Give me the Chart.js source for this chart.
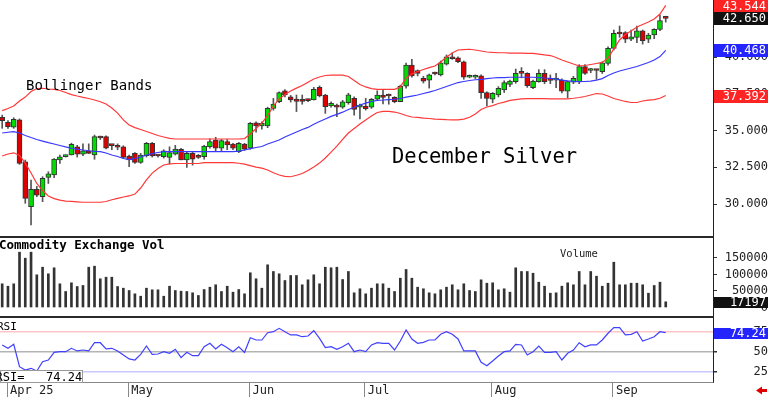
<!DOCTYPE html>
<html>
<head>
<meta charset="utf-8">
<script src="https://cdn.jsdelivr.net/npm/chart.js@4.4.1/dist/chart.umd.min.js"></script>
<style>
  html, body { margin: 0; padding: 0; background: #fff; }
  #wrap { position: relative; width: 768px; height: 397px; overflow: hidden; background: #fff; }
  canvas { position: absolute; left: 0; }
  .sep { position: absolute; left: 0; width: 714px; background: #2a2a2a; }
</style>
</head>
<body>
<div id="wrap">
  <canvas id="price" width="768" height="236" style="top:0"></canvas>
  <div class="sep" style="top:236px;height:2px"></div>
  <canvas id="vol" width="768" height="78" style="top:238px"></canvas>
  <div class="sep" style="top:316px;height:2px"></div>
  <canvas id="rsi" width="768" height="79" style="top:318px"></canvas>
</div>
<script>
// daily bars, index 0 = Mar 31 ... 115 = Sep 15
const monthTicks = [1, 22, 43, 63, 85, 106];
const monthLabels = ['Apr 25', 'May', 'Jun', 'Jul', 'Aug', 'Sep'];

const open = [35.91,35.57,35.23,35.73,32.88,29.82,31.00,30.50,31.82,31.98,
  33.00,33.23,33.34,33.90,33.40,33.63,33.34,34.55,34.59,34.00,
  34.00,33.90,33.27,33.45,32.84,33.29,34.14,33.30,33.22,33.18,
  33.40,33.73,33.00,33.45,33.32,33.22,33.90,34.36,33.80,34.25,
  34.09,33.57,34.09,33.80,35.54,35.32,35.32,36.52,36.97,37.72,
  37.30,37.15,37.14,37.10,37.09,37.95,37.43,36.68,36.75,36.60,
  36.90,37.20,36.60,36.68,36.60,37.14,37.43,37.39,37.27,36.97,
  38.04,39.47,39.09,38.57,38.45,38.90,38.80,39.54,40.04,39.97,
  39.70,38.64,38.64,38.73,37.59,37.14,37.43,37.77,38.16,38.34,
  38.98,38.90,37.93,38.34,38.90,38.47,38.45,38.45,37.70,38.30,
  38.34,39.36,39.10,39.14,39.02,39.59,40.61,41.68,41.68,41.23,
  41.36,41.81,41.23,41.52,41.90,42.70];
const high = [36.06,35.68,35.88,35.80,33.00,31.64,31.20,31.86,32.20,33.10,
  33.34,33.35,34.15,34.00,34.10,34.10,34.70,34.63,34.65,34.05,
  34.10,33.97,33.34,33.50,33.45,34.20,34.20,33.35,33.70,33.90,
  34.00,33.80,33.57,33.55,33.38,34.00,34.45,34.55,34.40,34.40,
  34.14,34.20,34.14,35.56,35.60,35.60,36.60,37.20,37.65,37.80,
  37.40,37.43,37.43,37.15,37.95,38.05,37.48,36.96,36.82,37.07,
  37.55,37.31,36.82,37.20,37.20,37.72,37.80,37.50,37.32,38.10,
  39.60,39.86,39.14,38.70,38.86,39.00,39.75,40.16,40.30,40.04,
  39.75,38.80,38.80,38.80,37.65,37.60,38.00,38.40,38.45,39.20,
  39.30,38.95,38.45,39.16,39.16,38.80,38.90,38.54,38.38,38.70,
  39.50,39.50,39.25,39.18,39.70,40.72,41.86,42.13,41.75,41.86,
  42.13,41.86,41.64,41.95,42.88,42.80];
const low = [35.16,35.16,35.16,32.70,30.05,28.57,30.50,30.16,31.40,31.80,
  32.77,33.20,33.34,33.20,33.30,33.45,33.05,34.40,33.75,33.70,
  33.70,33.10,32.54,32.77,32.77,33.20,33.20,33.20,33.13,32.73,
  33.34,33.00,32.50,32.65,33.10,33.05,33.80,33.57,33.57,33.70,
  33.70,33.50,33.65,33.73,34.90,35.10,35.20,36.40,36.90,37.30,
  36.95,36.30,36.80,36.98,37.09,37.30,36.18,36.60,35.95,36.52,
  36.80,36.06,35.80,36.40,36.52,37.10,36.82,36.80,36.90,36.97,
  37.90,38.64,38.73,38.25,37.90,38.80,38.73,39.47,39.86,39.63,
  38.50,38.60,38.55,37.20,36.68,36.90,37.30,37.60,38.00,38.23,
  38.60,37.95,37.86,38.30,38.20,38.20,37.93,37.57,37.25,38.20,
  38.20,38.84,38.95,38.50,38.90,39.47,40.50,41.36,41.00,41.13,
  41.00,40.90,41.00,41.27,41.81,42.40];
const close = [35.68,35.27,35.77,32.77,30.39,31.00,30.61,31.75,32.05,33.07,
  33.22,33.28,34.07,33.40,33.63,33.45,34.59,34.50,33.80,33.98,
  33.87,33.18,33.00,32.84,33.34,34.14,33.27,33.27,33.63,33.50,
  33.75,33.00,33.45,33.05,33.18,33.95,34.25,33.80,34.32,34.02,
  33.80,34.14,33.73,35.50,35.32,35.50,36.52,36.82,37.59,37.43,
  37.10,37.00,37.00,37.05,37.82,37.36,36.63,36.86,36.60,36.97,
  37.45,36.45,36.75,36.50,37.14,37.43,37.27,37.36,36.97,38.04,
  39.47,38.73,38.90,38.38,38.80,38.86,39.63,40.04,39.90,39.70,
  38.64,38.73,38.75,37.59,37.20,37.55,37.89,38.27,38.38,38.90,
  38.90,38.06,38.38,38.90,38.34,38.43,38.52,37.70,38.34,38.57,
  39.36,38.90,39.16,39.10,39.63,40.61,41.64,41.59,41.23,41.40,
  41.81,41.13,41.52,41.90,42.50,42.65];

const bbUpper = [36.37,36.51,36.68,37.02,37.29,37.67,37.87,37.89,37.84,37.81,
  37.74,37.60,37.46,37.36,37.27,37.19,37.09,36.97,36.82,36.54,
  36.20,35.73,35.39,35.21,35.08,34.94,34.81,34.67,34.57,34.47,
  34.43,34.43,34.43,34.43,34.43,34.43,34.43,34.43,34.43,34.43,
  34.43,34.43,34.46,34.77,35.15,35.52,36.03,36.68,37.16,37.46,
  37.70,37.90,38.08,38.30,38.52,38.66,38.76,38.79,38.79,38.79,
  38.69,38.42,38.15,37.98,37.87,37.82,37.82,37.82,37.82,37.98,
  38.59,38.86,39.03,39.17,39.30,39.41,39.68,40.02,40.29,40.50,
  40.53,40.55,40.50,40.43,40.36,40.33,40.31,40.31,40.29,40.29,
  40.28,40.27,40.27,40.22,40.16,40.12,39.99,39.82,39.68,39.54,
  39.41,39.44,39.51,39.58,39.65,39.95,40.57,41.18,41.55,41.79,
  42.07,42.24,42.41,42.61,42.95,43.544];
const bbMid = [34.84,34.89,34.93,34.84,34.67,34.53,34.40,34.29,34.18,34.09,
  33.99,33.89,33.80,33.74,33.68,33.63,33.59,33.57,33.48,33.34,
  33.24,33.10,33.03,33.10,33.20,33.34,33.44,33.51,33.57,33.57,
  33.57,33.57,33.57,33.57,33.57,33.57,33.57,33.57,33.57,33.57,
  33.57,33.61,33.68,33.78,33.85,33.92,34.09,34.23,34.36,34.57,
  34.74,34.91,35.08,35.22,35.44,35.62,35.79,35.97,36.11,36.26,
  36.44,36.60,36.75,36.88,36.99,37.07,37.09,37.12,37.14,37.19,
  37.29,37.36,37.43,37.53,37.63,37.74,37.87,38.01,38.15,38.28,
  38.35,38.42,38.47,38.50,38.55,38.59,38.61,38.62,38.64,38.64,
  38.64,38.64,38.64,38.62,38.59,38.57,38.52,38.45,38.40,38.36,
  38.34,38.35,38.38,38.45,38.55,38.76,38.93,39.07,39.17,39.27,
  39.37,39.51,39.65,39.82,40.05,40.468];
const bbLower = [33.27,33.41,33.49,33.31,32.79,32.11,31.40,30.92,30.55,30.37,
  30.27,30.20,30.18,30.15,30.12,30.12,30.12,30.12,30.17,30.29,
  30.39,30.48,30.55,30.68,31.09,31.64,32.11,32.42,32.66,32.73,
  32.76,32.76,32.76,32.76,32.76,32.82,32.82,32.82,32.82,32.82,
  32.82,32.78,32.72,32.62,32.52,32.45,32.32,32.13,31.98,31.89,
  31.86,31.96,32.08,32.28,32.52,32.79,33.14,33.54,33.95,34.40,
  34.84,35.15,35.45,35.73,36.00,36.24,36.31,36.31,36.27,36.17,
  36.03,35.93,35.90,35.86,35.83,35.79,35.77,35.75,35.74,35.73,
  35.79,35.91,36.14,36.44,36.61,36.71,36.85,36.95,37.06,37.12,
  37.16,37.19,37.19,37.19,37.19,37.16,37.16,37.16,37.17,37.21,
  37.26,37.33,37.43,37.53,37.50,37.36,37.19,37.09,36.99,36.92,
  36.92,37.02,37.08,37.12,37.21,37.392];

const volume = [71800,64500,71800,167600,149400,167600,99100,122100,102100,120300,
  71800,48500,74800,63600,66700,122100,125200,87000,91800,91800,
  63600,58500,51500,41500,34200,58500,53600,53600,34200,64500,
  51500,49400,48500,44500,36400,54500,61500,68800,48500,64500,
  46400,54500,41500,105200,87000,58500,129400,109100,102100,81800,
  97000,97000,68800,83900,99100,71800,122100,120300,122100,84800,
  109100,44500,56700,41500,58500,71800,71800,58500,48500,88800,
  115200,88800,61500,56700,44500,41500,53600,61500,68800,53600,
  71800,51500,48500,83900,73600,74800,53600,56700,46400,120300,
  109100,109100,103900,76700,64500,43300,44500,64500,74800,68800,
  109100,68800,109100,94800,64500,73600,137300,68800,68800,73600,
  73600,68800,43300,66700,76700,17197];

const rsi = [58.8,54.6,59.6,31.6,27.5,29.6,26.3,37.9,40.0,49.6,
  50.4,50.4,54.6,51.3,52.5,51.3,61.6,61.6,53.8,54.6,
  51.3,46.3,41.3,40.0,47.1,57.5,47.1,47.5,50.4,48.4,
  53.4,42.9,49.6,45.4,45.4,56.6,60.9,53.8,59.6,55.4,
  50.4,56.6,49.6,67.9,65.0,65.0,74.1,75.4,79.6,75.4,
  71.3,71.3,69.1,70.0,76.6,67.1,55.4,56.6,53.4,56.6,
  60.9,50.4,52.5,50.4,58.8,61.6,60.9,60.9,52.5,63.8,
  77.5,66.3,60.9,62.1,65.0,65.0,72.1,75.4,72.1,66.3,
  51.3,51.3,51.3,37.1,32.9,38.8,45.0,50.4,51.3,59.6,
  58.8,46.3,50.4,57.5,49.6,49.6,50.4,40.0,48.4,52.5,
  61.6,56.6,58.8,58.8,65.0,73.4,80.4,80.4,71.3,72.1,
  75.4,63.8,66.3,69.1,75.4,74.24];

const priceTicks = [30, 32.5, 35, 37.5, 40, 42.5];
const volTicks = [0, 50000, 100000, 150000];
const rsiTicks = [25, 50, 75];

const MONO = 'DejaVu Sans Mono';
Chart.defaults.font.family = MONO;
Chart.defaults.color = '#222';

const X_MIN = -0.38, X_MAX = 123.19;
const last = a => a[a.length - 1];
const idx = close.map((_, i) => i);
const asLine = arr => arr.map((v, i) => ({ x: i, y: v }));

const hiddenX = { type: 'linear', min: X_MIN, max: X_MAX, offset: false, display: false };

function fitRight(s) {
  s.width = 55;
  s.paddingTop = 0;
  s.paddingBottom = 0;
}

function rightAxis(min, max, ticks, fmt, extra) {
  return Object.assign({
    type: 'linear', position: 'right', min, max, beginAtZero: false,
    afterBuildTicks: s => { s.ticks = ticks.map(v => ({ value: v })); },
    afterFit: fitRight,
    grid: { drawOnChartArea: false, drawTicks: true, tickLength: 4, tickColor: '#333' },
    border: { display: true, color: '#222', width: 1 },
    ticks: { padding: 6, crossAlign: 'far', color: '#222', font: { family: MONO, size: 12 }, callback: fmt }
  }, extra || {});
}

const baseOpts = {
  responsive: false, animation: false, devicePixelRatio: 1, events: [],
  layout: { padding: 0 },
  plugins: { legend: { display: false }, tooltip: { enabled: false } }
};

// value boxes on the right axis
function tagPlugin(id, axis, tags, h) {
  return {
    id,
    afterDraw(chart) {
      const c = chart.ctx, area = chart.chartArea, sc = chart.scales[axis];
      c.save();
      c.font = '12px "' + MONO + '"';
      c.textAlign = 'right';
      c.textBaseline = 'middle';
      for (const t of tags) {
        const y = sc.getPixelForValue(t.value);
        const top = Math.max(0, Math.round(y - h / 2 + 0.5));
        c.fillStyle = t.bg;
        c.fillRect(area.right + 1, top, 768 - area.right - 1, h);
        c.fillStyle = '#fff';
        c.fillText(t.text, 766, top + h / 2 + 0.5);
      }
      c.restore();
    }
  };
}

// ---- price panel
const bodyColors = idx.map(i => close[i] >= open[i] ? '#00dc00' : '#dc0000');
new Chart(document.getElementById('price'), {
  type: 'bar',
  data: {
    datasets: [
      { type: 'line', data: asLine(bbUpper), borderColor: '#ff3838', borderWidth: 1.2, pointRadius: 0, order: 0 },
      { type: 'line', data: asLine(bbMid), borderColor: '#3838ff', borderWidth: 1.2, pointRadius: 0, order: 0 },
      { type: 'line', data: asLine(bbLower), borderColor: '#ff3838', borderWidth: 1.2, pointRadius: 0, order: 0 },
      { data: idx.map(i => ({ x: i, y: [Math.min(open[i], close[i]), Math.max(open[i], close[i])] })),
        backgroundColor: bodyColors, borderColor: '#333', borderWidth: 1, borderSkipped: false,
        barThickness: 5, minBarLength: 2, grouped: false, order: 1 },
      { data: idx.map(i => ({ x: i, y: [low[i], high[i]] })),
        backgroundColor: '#555', borderWidth: 0, barThickness: 1, grouped: false, order: 2 }
    ]
  },
  options: Object.assign({}, baseOpts, {
    scales: {
      x: hiddenX,
      y: rightAxis(27.82, 43.906, priceTicks, v => v.toFixed(3))
    }
  }),
  plugins: [
    {
      id: 'priceText',
      afterDatasetsDraw(chart) {
        const c = chart.ctx;
        c.save();
        c.fillStyle = '#000';
        c.textBaseline = 'alphabetic';
        c.font = '14px "' + MONO + '"';
        c.fillText('Bollinger Bands', 26, 90);
        c.font = '20.5px "' + MONO + '"';
        c.fillText('December Silver', 392, 163);
        c.restore();
      }
    },
    tagPlugin('priceTags', 'y', [
      { value: last(bbUpper), text: last(bbUpper).toFixed(3), bg: '#ff2424' },
      { value: last(close), text: last(close).toFixed(3), bg: '#111' },
      { value: last(bbMid), text: last(bbMid).toFixed(3), bg: '#2424ff' },
      { value: last(bbLower), text: last(bbLower).toFixed(3), bg: '#ff2424' }
    ], 13)
  ]
});

// ---- volume panel
new Chart(document.getElementById('vol'), {
  type: 'bar',
  data: {
    datasets: [{
      data: idx.map(i => ({ x: i, y: volume[i] })),
      backgroundColor: '#333', borderWidth: 0, barThickness: 2
    }]
  },
  options: Object.assign({}, baseOpts, {
    scales: {
      x: hiddenX,
      y: rightAxis(-25758, 210606, volTicks, v => String(v))
    }
  }),
  plugins: [
    {
      id: 'volText',
      afterDatasetsDraw(chart) {
        const c = chart.ctx;
        c.save();
        c.fillStyle = '#000';
        c.font = 'bold 12.5px "' + MONO + '"';
        c.fillText('Commodity Exchange Vol', -1, 11);
        c.font = '10.5px "' + MONO + '"';
        c.fillStyle = '#222';
        c.fillText('Volume', 560, 18.7);
        c.restore();
      }
    },
    tagPlugin('volTags', 'y', [{ value: last(volume), text: String(last(volume)), bg: '#111' }], 11)
  ]
});

// ---- RSI panel
const rsiGridColor = ctx => {
  const v = ctx.tick && ctx.tick.value;
  if (v === 75) return '#ffc4c4';
  if (v === 25) return '#c8c8ff';
  return '#b4b4b4';
};
new Chart(document.getElementById('rsi'), {
  type: 'line',
  data: {
    datasets: [{ data: asLine(rsi), borderColor: '#4040ff', borderWidth: 1.2, pointRadius: 0 }]
  },
  options: Object.assign({}, baseOpts, {
    scales: {
      x: {
        type: 'linear', min: X_MIN, max: X_MAX, offset: false, position: 'bottom',
        afterBuildTicks: s => { s.ticks = monthTicks.map(v => ({ value: v - 0.15 })); },
        afterFit: s => { s.height = 15; },
        grid: { display: true, drawOnChartArea: false, drawTicks: true, tickLength: 15, color: '#888', tickColor: '#888' },
        border: { display: true, color: '#888', width: 1 },
        ticks: {
          autoSkip: false, maxRotation: 0, align: 'start', labelOffset: 3, padding: -13,
          color: '#222', font: { family: MONO, size: 12 },
          callback: (v, i) => monthLabels[i]
        }
      },
      y: rightAxis(12.5, 92.5, rsiTicks, v => String(v), {
        grid: { drawOnChartArea: true, drawTicks: true, tickLength: 4, color: rsiGridColor, tickColor: '#333', lineWidth: 1.5 }
      })
    }
  }),
  plugins: [
    {
      id: 'rsiText',
      afterDraw(chart) {
        const c = chart.ctx;
        c.save();
        c.fillStyle = '#000';
        c.font = '11px "' + MONO + '"';
        c.fillText('RSI', -3, 12);
        c.fillStyle = '#fff';
        c.fillRect(0, 52, 83, 12);
        c.strokeStyle = '#999';
        c.lineWidth = 1;
        c.strokeRect(0.5, 52.5, 82, 12);
        c.fillStyle = '#000';
        c.font = '12px "' + MONO + '"';
        c.fillText('RSI=   ' + last(rsi).toFixed(2), -4.5, 62.5);
        // red arrow, bottom right
        c.fillStyle = '#e00000';
        c.beginPath();
        c.moveTo(756, 72.5);
        c.lineTo(762, 68.5);
        c.lineTo(762, 71);
        c.lineTo(767, 71);
        c.lineTo(767, 74);
        c.lineTo(762, 74);
        c.lineTo(762, 76.5);
        c.closePath();
        c.fill();
        c.restore();
      }
    },
    tagPlugin('rsiTags', 'y', [{ value: last(rsi), text: last(rsi).toFixed(2), bg: '#2424ff' }], 11)
  ]
});
</script>
</body>
</html>
